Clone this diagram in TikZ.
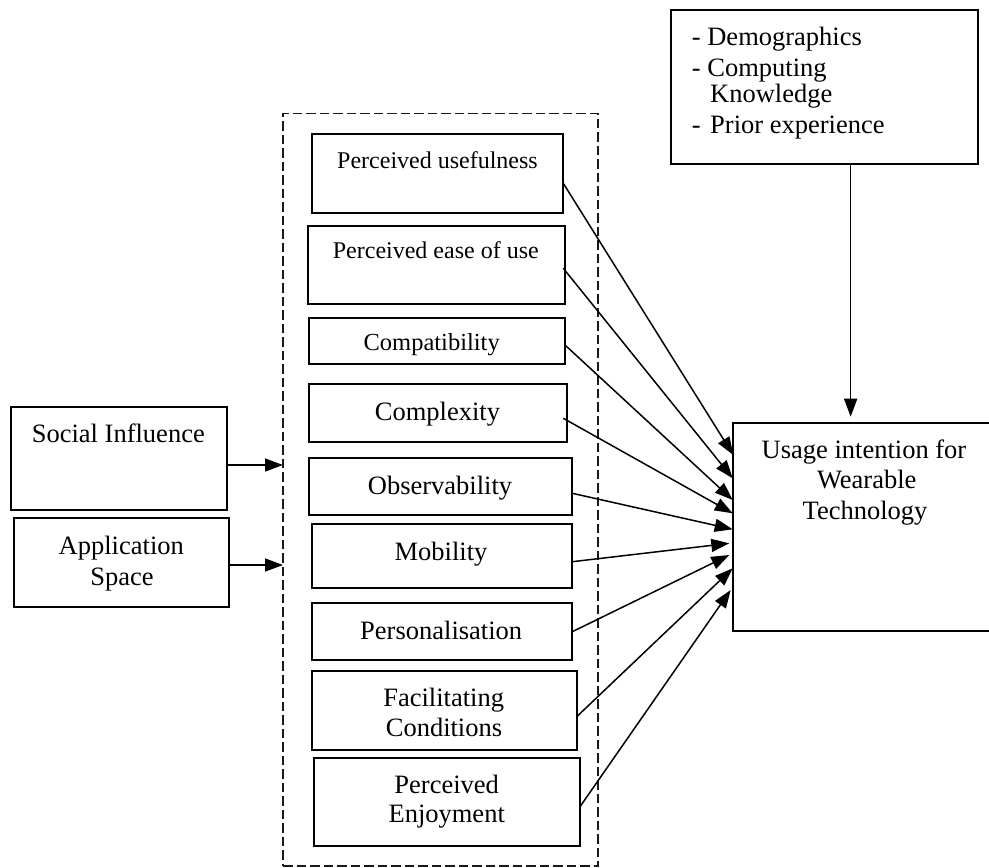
\documentclass[tikz,border=0pt]{standalone}
\usepackage{fontspec}
\setmainfont{Liberation Serif}
\usetikzlibrary{arrows.meta,calc}

\tikzset{
  box/.style={draw, line width=2pt, inner sep=0pt, outer sep=0pt},
  group/.style={draw=black!90, line width=1.1pt, dash pattern=on 9.5pt off 4pt, inner sep=0pt, outer sep=0pt},
  txt/.style={inner sep=0pt, anchor=base, font=\fontsize{26.5}{30}\selectfont},
  txtsmall/.style={txt, font=\fontsize{24}{28}\selectfont},
  txtleft/.style={txt, anchor=base west},
  arr/.style={line width=1.5pt, -{Triangle[length=18pt,width=13pt]}},
}

\begin{document}
\begin{tikzpicture}[x=1pt,y=-1pt]
\useasboundingbox (0,0) rectangle (989,868);

% grouping frame around the adoption factors
\node[group, minimum width=315pt, minimum height=752.7pt] (grp) at (440.5,489.65) {};

% factor boxes
\node[box, minimum width=251pt,   minimum height=79pt]   (pu) at (437.8,173.8) {};
\node[box, minimum width=257.3pt, minimum height=78pt]   (pe) at (436.35,265) {};
\node[box, minimum width=256pt,   minimum height=46pt]   (cp) at (437,341.3) {};
\node[box, minimum width=257.4pt, minimum height=57.4pt] (cx) at (438,413) {};
\node[box, minimum width=263pt,   minimum height=56.7pt] (ob) at (440.8,486.65) {};
\node[box, minimum width=260pt,   minimum height=63.4pt] (mo) at (442.3,556) {};
\node[box, minimum width=260pt,   minimum height=57.3pt] (ps) at (442.3,631.35) {};
\node[box, minimum width=264.4pt, minimum height=79pt]   (fc) at (444.5,710.5) {};
\node[box, minimum width=266pt,   minimum height=87.4pt] (pj) at (447,802) {};

\node[txtsmall] (tpu) at (437.5,168.3) {Perceived usefulness};
\node[txtsmall] (tpe) at (435.8,258.3) {Perceived ease of use};
\node[txt, font=\fontsize{24.5}{28}\selectfont] (tcp) at (431.7,350.7) {Compatibility};
\node[txt] (tcx) at (437.5,420) {Complexity};
\node[txt] (tob) at (440,494) {Observability};
\node[txt] (tmo) at (441,560) {Mobility};
\node[txt] (tps) at (441.2,639) {Personalisation};
\node[txt] (tfc1) at (443.7,706.7) {Facilitating};
\node[txt] (tfc2) at (444,736.7) {Conditions};
\node[txt] (tpj1) at (446.7,793.8) {Perceived};
\node[txt] (tpj2) at (446.7,822.7) {Enjoyment};

% external influences on the left
\node[box, minimum width=215.7pt, minimum height=103.3pt] (si) at (118.85,458.35) {};
\node[box, minimum width=215pt,   minimum height=88.4pt]  (as) at (121.8,562.5) {};
\node[txt] (tsi) at (118.3,442.7) {Social Influence};
\node[txt] (tas1) at (121.3,554) {Application};
\node[txt] (tas2) at (122,585) {Space};

% moderating factors
\node[box, minimum width=307.3pt, minimum height=154pt] (meta) at (824.65,87) {};
\node[txtleft] (tm1) at (691.7,45.5) {- Demographics};
\node[txtleft] (tm2) at (691.7,76.3) {- Computing};
\node[txtleft] (tm3) at (710,102.8) {Knowledge};
\node[txtleft] (tm4) at (691.7,133) {-\hspace{9.5pt}Prior experience};

% outcome
\node[box, minimum width=258.7pt, minimum height=208.3pt] (ui) at (862.65,526.85) {};
\node[txt] (tui1) at (864,458.3) {Usage intention for};
\node[txt] (tui2) at (866.7,488.8) {Wearable};
\node[txt] (tui3) at (865,519.3) {Technology};

% connectors
\draw[arr] (si.east |- 0,465) -- (grp.west |- 0,465);
\draw[arr] (as.east |- 0,565) -- (grp.west |- 0,565);

\draw[arr] ($(meta.south)+(26,0)$) coordinate (mdown) -- ($(mdown |- ui.north)+(0,-6)$);

\draw[arr] ($(pu.east)+(0,9.5)$)  -- ($(ui.west)+(0,-71.85)$);
\draw[arr] ($(pe.east)+(-1.7,3.3)$) -- ($(ui.west)+(-0.6,-48.55)$);
\draw[arr] ($(cp.east)+(0,3.7)$)  -- ($(ui.west)+(-0.6,-26.85)$);
\draw[arr] ($(cx.east)+(-3.4,5.3)$) -- ($(ui.west)+(-0.6,-13.55)$);
\draw[arr] ($(ob.east)+(0,6.65)$) -- ($(ui.west)+(-0.6,2.45)$);
\draw[arr] ($(mo.east)+(0,5.7)$)  -- ($(ui.west)+(-4,16.45)$);
\draw[arr] ($(ps.east)+(0,0.35)$) -- ($(ui.west)+(-4,28.15)$);
\draw[arr] ($(fc.east)+(0,6.2)$)  -- ($(ui.west)+(-0.6,41.45)$);
\draw[arr] ($(pj.east)+(0,4.7)$)  -- ($(ui.west)+(-2.6,63.15)$);
\end{tikzpicture}
\end{document}
